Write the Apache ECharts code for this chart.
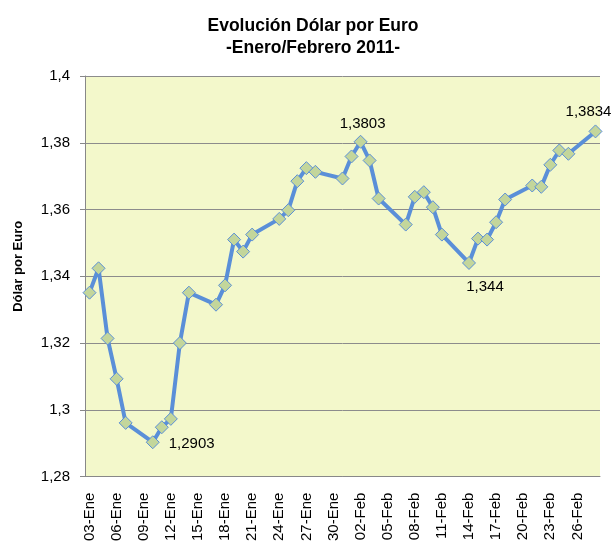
<!DOCTYPE html>
<html>
<head>
<meta charset="utf-8">
<script src="https://cdn.jsdelivr.net/npm/echarts@6/dist/echarts.min.js"></script>
<style>html,body{margin:0;padding:0;background:#fff}#c{width:615px;height:544px}</style>
</head>
<body>
<div id="c"></div>
<script>
// Business days with quotes
const dates = ['03-Ene','04-Ene','05-Ene','06-Ene','07-Ene','10-Ene','11-Ene','12-Ene','13-Ene','14-Ene',
  '17-Ene','18-Ene','19-Ene','20-Ene','21-Ene','24-Ene','25-Ene','26-Ene','27-Ene','28-Ene','31-Ene',
  '01-Feb','02-Feb','03-Feb','04-Feb','07-Feb','08-Feb','09-Feb','10-Feb','11-Feb',
  '14-Feb','15-Feb','16-Feb','17-Feb','18-Feb','21-Feb','22-Feb','23-Feb','24-Feb','25-Feb','28-Feb'];
const values = [1.3351,1.3424,1.3214,1.3093,1.2961,1.2903,1.2948,1.2973,1.3200,1.3351,
  1.3315,1.3373,1.3510,1.3474,1.3525,1.3572,1.3598,1.3685,1.3724,1.3713,1.3693,
  1.3759,1.3803,1.3747,1.3633,1.3555,1.3638,1.3652,1.3607,1.3525,
  1.3440,1.3513,1.3510,1.3562,1.3630,1.3672,1.3668,1.3734,1.3777,1.3767,1.3834];
const labeled = {'10-Ene':'1,2903','02-Feb':'1,3803','14-Feb':'1,344','28-Feb':'1,3834'};
const yTicks = ['1,28','1,3','1,32','1,34','1,36','1,38','1,4'];

// Full day-by-day date axis (03-Ene .. 28-Feb)
const categories = [];
for (let d = 3; d <= 31; d++) categories.push(String(d).padStart(2,'0') + '-Ene');
for (let d = 1; d <= 28; d++) categories.push(String(d).padStart(2,'0') + '-Feb');

const lookup = {};
dates.forEach((d, i) => lookup[d] = values[i]);

const labelCfg = {
  '10-Ene': {position:'right', offset:[4, 2]},
  '02-Feb': {position:'top', offset:[2, 2]},
  '14-Feb': {position:'bottom', offset:[16, 4]},
  '28-Feb': {position:'top', offset:[-7, 0]}
};

const seriesData = categories.map(c => {
  if (!(c in lookup)) return null;
  const item = {value: lookup[c]};
  if (labeled[c]) {
    item.label = Object.assign({show:true, formatter: labeled[c], fontSize:15,
      color:'#000', fontFamily:'Liberation Sans'}, labelCfg[c]);
  }
  return item;
});

const chart = echarts.init(document.getElementById('c'), null, {renderer:'canvas'});
chart.setOption({
  animation:false,
  backgroundColor:'#fff',
  title:{
    text:'Evolución Dólar por Euro\n-Enero/Febrero 2011-',
    left:308, top:10, textAlign:'center',
    textStyle:{fontFamily:'Liberation Sans', fontWeight:'bold', fontSize:17.5, color:'#000', lineHeight:22}
  },
  grid:{left:85, right:15, top:76, bottom:67, show:true, backgroundColor:'#F3F8CB', borderWidth:0},
  xAxis:{
    type:'category', data:categories, boundaryGap:true,
    axisLine:{lineStyle:{color:'#888', width:1}},
    axisTick:{interval:2, length:4, lineStyle:{color:'#888'}},
    axisLabel:{interval:2, rotate:90, fontSize:15, color:'#000', fontFamily:'Liberation Sans', margin:16},
    splitLine:{show:false}
  },
  yAxis:{
    type:'value', min:1.28, max:1.4, interval:0.02,
    name:'Dólar por Euro', nameLocation:'middle', nameRotate:90, nameGap:60,
    nameTextStyle:{fontFamily:'Liberation Sans', fontWeight:'bold', fontSize:13, color:'#000', padding:[0,0,0,20]},
    axisLine:{show:true, lineStyle:{color:'#888'}},
    axisTick:{show:true, length:5, lineStyle:{color:'#888'}},
    axisLabel:{fontSize:15, color:'#000', fontFamily:'Liberation Sans', margin:15,
      formatter: v => yTicks[Math.round((v - 1.28) / 0.02)]},
    splitLine:{show:true, lineStyle:{color:'#8c8c8c', width:1}}
  },
  series:[{
    type:'line', data:seriesData, connectNulls:true,
    showSymbol:true, showAllSymbol:true,
    symbol:'diamond', symbolSize:13,
    lineStyle:{color:'#5A8FD8', width:4},
    itemStyle:{color:'#C3D69B', borderColor:'#5A8FD8', borderWidth:1},
    label:{show:false}
  }]
});
</script>
</body>
</html>
